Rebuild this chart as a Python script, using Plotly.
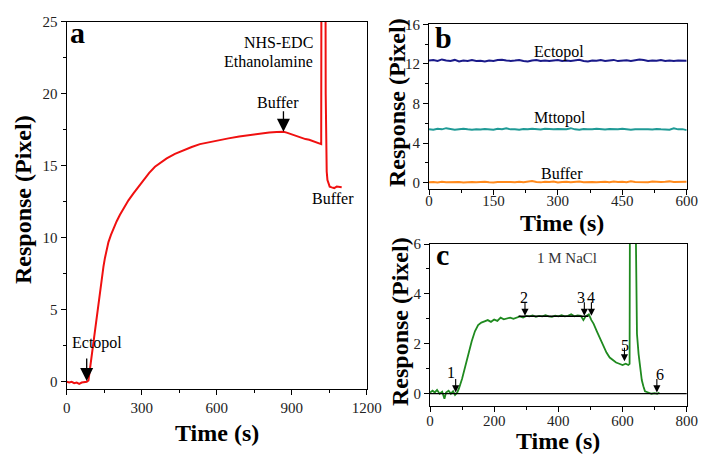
import plotly.graph_objects as go

# ---------------- data ----------------
# Panel a: immobilisation sensorgram (red)
time_a = [0, 10, 20, 30, 40, 50, 60, 70, 80, 87, 93, 100, 107, 113, 120, 127, 133, 140, 147, 153,
          160, 167, 177, 187, 200, 213, 227, 247, 267, 287, 307, 330, 353, 377, 400, 433, 467,
          500, 533, 567, 600, 647, 690, 730, 770, 810, 840, 867, 880, 895, 910, 925, 940, 955,
          970, 985, 1000, 1010, 1018, 1019, 1035, 1036, 1038, 1040, 1043, 1047, 1052, 1060,
          1070, 1080, 1090, 1100]
resp_a = [0.0, -0.05, 0.0, -0.1, -0.05, -0.15, -0.05, -0.05, 0.0, 0.1, 0.9, 2.0, 2.9, 3.8, 4.7,
          5.7, 6.5, 7.3, 8.0, 8.6, 9.2, 9.7, 10.2, 10.65, 11.15, 11.6, 12.04, 12.6, 13.08, 13.55,
          14.0, 14.5, 14.93, 15.25, 15.51, 15.82, 16.09, 16.3, 16.5, 16.63, 16.74, 16.9, 17.03,
          17.13, 17.22, 17.3, 17.34, 17.36, 17.3, 17.2, 17.1, 17.0, 16.95, 16.85, 16.8, 16.7,
          16.65, 16.55, 16.5, 30.0, 30.0, 20.0, 16.0, 14.6, 14.0, 13.7, 13.55, 13.5, 13.45,
          13.55, 13.5, 13.5]

# Panel b: stability of the immobilised surfaces
time_b = [0, 10, 20, 30, 40, 50, 60, 70, 80, 90, 100, 110, 120, 130, 140, 150, 160, 170, 180, 190,
          200, 210, 220, 230, 240, 250, 260, 270, 280, 290, 300, 310, 320, 330, 340, 350, 360, 370,
          380, 390, 400, 410, 420, 430, 440, 450, 460, 470, 480, 490, 500, 510, 520, 530, 540, 550,
          560, 570, 580, 590, 600]
ectopol_b = [12.35, 12.40, 12.30, 12.45, 12.35, 12.30, 12.40, 12.25, 12.35, 12.30,
             12.38, 12.30, 12.32, 12.25, 12.35, 12.30, 12.40, 12.42, 12.35, 12.30,
             12.33, 12.38, 12.30, 12.25, 12.35, 12.40, 12.30, 12.35, 12.28, 12.36,
             12.40, 12.30, 12.35, 12.30, 12.38, 12.42, 12.30, 12.25, 12.35, 12.32,
             12.38, 12.30, 12.35, 12.40, 12.28, 12.33, 12.36, 12.30, 12.35, 12.45,
             12.38, 12.30, 12.35, 12.32, 12.40, 12.30, 12.35, 12.28, 12.33, 12.30,
             12.32]
mttopol_b = [5.40, 5.35, 5.45, 5.38, 5.50, 5.42, 5.35, 5.40, 5.45, 5.38,
             5.35, 5.40, 5.36, 5.42, 5.38, 5.35, 5.45, 5.40, 5.48, 5.38,
             5.40, 5.35, 5.42, 5.38, 5.45, 5.40, 5.36, 5.44, 5.40, 5.38,
             5.42, 5.38, 5.40, 5.50, 5.38, 5.35, 5.42, 5.40, 5.38, 5.44,
             5.40, 5.36, 5.42, 5.38, 5.40, 5.45, 5.38, 5.35, 5.40, 5.42,
             5.38, 5.40, 5.36, 5.42, 5.38, 5.40, 5.35, 5.48, 5.38, 5.40,
             5.30]
buffer_b = [0.02, 0.05, 0.00, 0.08, 0.03, 0.06, 0.02, 0.05, 0.00, 0.04,
            0.06, 0.02, 0.05, 0.08, 0.03, 0.00, 0.05, 0.07, 0.02, 0.05,
            0.04, 0.08, 0.03, 0.06, 0.15, 0.05, 0.02, 0.08, 0.05, 0.10,
            0.00, 0.05, 0.08, 0.03, 0.06, 0.10, 0.04, 0.08, 0.05, 0.03,
            0.06, 0.08, 0.04, 0.10, 0.05, 0.08, 0.03, 0.12, 0.06, 0.05,
            0.08, 0.04, 0.10, 0.06, 0.05, 0.08, 0.12, 0.06, 0.08, 0.10,
            0.08]

# Panel c: binding / regeneration cycle (green)
time_c = [0, 8, 15, 22, 30, 38, 45, 50, 58, 65, 72, 78, 85, 90, 100, 110, 120, 130, 140, 150,
          160, 170, 180, 190, 200, 210, 220, 230, 240, 250, 260, 270, 280, 290, 300, 310, 320,
          330, 340, 350, 360, 370, 380, 390, 400, 410, 420, 430, 440, 450, 460, 470, 478, 485,
          495, 503, 510, 520, 530, 540, 550, 560, 570, 580, 590, 600, 610, 618, 622, 623, 641,
          645, 650, 655, 660, 665, 670, 680, 690, 700, 708, 715]
resp_c = [0.05, 0.12, 0.05, 0.15, 0.0, 0.08, -0.2, 0.05, 0.12, 0.0, 0.1, -0.05, 0.05, 0.2, 0.6,
          1.05, 1.6, 2.1, 2.5, 2.75, 2.85, 2.9, 2.95, 2.88, 2.97, 2.92, 3.05, 2.98, 3.0, 3.05, 3.0,
          3.06, 3.1, 3.05, 3.12, 3.1, 3.14, 3.08, 3.12, 3.1, 3.15, 3.1, 3.08, 3.13, 3.1, 3.15,
          3.1, 3.12, 3.18, 3.1, 3.14, 3.12, 2.95, 3.1, 3.18, 2.95, 2.8, 2.5, 2.2, 1.9, 1.65, 1.45,
          1.35, 1.25, 1.2, 1.15, 1.2, 1.15, 1.2, 7.0, 7.0, 2.4, 1.6, 1.0, 0.55, 0.3, 0.1, 0.05,
          0.0, 0.02, 0.0, 0.05]

# annotation anchors (time, response)
arrows_c_t = [80, 296, 481, 503, 606, 707]
arrows_c_y = [0.05, 3.12, 3.12, 3.12, 1.3, 0.05]
arrows_c_lbl = ["1", "2", "3", "4", "5", "6"]
plateau_t = [276, 494]
plateau_y = 3.1

# ---------------- figure ----------------
# the page body has an 8 px margin: the figure is drawn at (8, 8) in the window
OFF = 8
W, H = 714 - OFF, 468 - OFF
FONT = "Liberation Serif, Times New Roman, serif"


def px(x):
    return (x - OFF) / W


def py(y):
    return 1 - (y - OFF) / H


fig = go.Figure()
fig.add_trace(go.Scatter(x=time_a, y=resp_a, mode="lines", line=dict(color="#f01010", width=2),
                         xaxis="x", yaxis="y", showlegend=False))
fig.add_trace(go.Scatter(x=time_b, y=ectopol_b, mode="lines", line=dict(color="#1a1a8a", width=2),
                         xaxis="x2", yaxis="y2", showlegend=False))
fig.add_trace(go.Scatter(x=time_b, y=mttopol_b, mode="lines", line=dict(color="#1f9a96", width=2),
                         xaxis="x2", yaxis="y2", showlegend=False))
fig.add_trace(go.Scatter(x=time_b, y=buffer_b, mode="lines", line=dict(color="#ff8a1c", width=2),
                         xaxis="x2", yaxis="y2", showlegend=False))
fig.add_trace(go.Scatter(x=time_c, y=resp_c, mode="lines", line=dict(color="#1f8a1f", width=1.8),
                         xaxis="x3", yaxis="y3", showlegend=False))
# plateau line in c
fig.add_trace(go.Scatter(x=plateau_t, y=[plateau_y, plateau_y], mode="lines",
                         line=dict(color="black", width=1.5), xaxis="x3", yaxis="y3",
                         showlegend=False))

tickfont = dict(family=FONT, size=15, color="#222")


def axis(domain, rng, dtick, minor_dtick, anchor, standoff=0):
    return dict(domain=domain, range=rng, dtick=dtick, tick0=0, anchor=anchor,
                automargin=False, ticklabelstandoff=standoff,
                showgrid=False, zeroline=False, showline=True, linecolor="black",
                linewidth=1.2, mirror=True, ticks="outside", ticklen=5, tickwidth=1.1,
                tickcolor="black", tickfont=tickfont,
                minor=dict(dtick=minor_dtick, tick0=0, ticks="outside", ticklen=3,
                           tickcolor="black", tickwidth=1, showgrid=False))


fig.update_layout(
    width=W, height=H, margin=dict(l=0, r=0, t=0, b=0, autoexpand=False),
    paper_bgcolor="white", plot_bgcolor="white",
    xaxis=axis([px(66.7), px(366.7)], [0, 1200], 300, 150, "y"),
    yaxis=axis([py(389), py(21.7)], [-0.5, 25], 5, 2.5, "x"),
    xaxis2=axis([px(429), px(686.7)], [0, 600], 150, 75, "y2", -7),
    yaxis2=axis([py(189), py(24.3)], [-0.65, 16], 4, 2, "x2"),
    xaxis3=axis([px(430), px(686.7)], [0, 800], 200, 100, "y3", -4),
    yaxis3=axis([py(405.7), py(244)], [-0.48, 6], 2, 1, "x3"),
)

# zero line in c
fig.add_shape(type="line", xref="x3 domain", yref="y3", x0=0, x1=1, y0=0, y1=0,
              line=dict(color="black", width=1.3))

ann = []


def text(x, y, s, size=15, bold=False, angle=0, xanchor="center", color="black"):
    ann.append(dict(x=px(x), y=py(y), xref="paper", yref="paper", text=s, showarrow=False,
                    xanchor=xanchor, yanchor="middle", textangle=angle,
                    font=dict(family=FONT, size=size, color=color,
                              weight="bold" if bold else "normal")))


def arrow(xr, yr, x, y, length, width, size):
    ann.append(dict(x=x, y=y, xref=xr, yref=yr, text="", showarrow=True, arrowhead=2,
                    arrowwidth=width, arrowsize=size, arrowcolor="black", ax=0, ay=-length,
                    standoff=0))


# axis titles
text(23, 200, "Response (Pixel)", 24, True, -90)
text(217, 433, "Time (s)", 24, True)
text(397, 103, "Response (Pixel)", 24, True, -90)
text(562, 223, "Time (s)", 24, True)
text(400, 322, "Response (Pixel)", 24, True, -90)
text(558, 441, "Time (s)", 24, True)

# panel letters
text(77, 32, "a", 30, True)
text(443, 38, "b", 30, True)
text(442, 254, "c", 30, True)

# panel a labels
text(315, 42, "NHS-EDC", 16, xanchor="right")
text(315, 62, "Ethanolamine", 16, xanchor="right")
text(278, 102, "Buffer", 16)
text(333, 198, "Buffer", 16)
text(97, 343, "Ectopol", 16)
arrow("x", "y", 867, 17.36, 22, 1.3, 2.0)
arrow("x", "y", 80, 0.05, 24, 1.3, 2.0)

# panel b labels
text(559, 52, "Ectopol", 16)
text(560, 118, "Mttopol", 16)
text(562, 173, "Buffer", 16)

# panel c labels
text(567, 258, "1 M NaCl", 15, color="#333")
lbl_px = [(451, 372), (524, 297), (580.7, 297), (590.7, 297), (625, 345), (660, 374)]
for (t, v, s, (lx, ly)) in zip(arrows_c_t, arrows_c_y, arrows_c_lbl, lbl_px):
    arrow("x3", "y3", t, v, 15, 1.1, 1.3)
    text(lx, ly, s, 16)

fig.update_layout(annotations=ann)
fig.write_html("out.html")
